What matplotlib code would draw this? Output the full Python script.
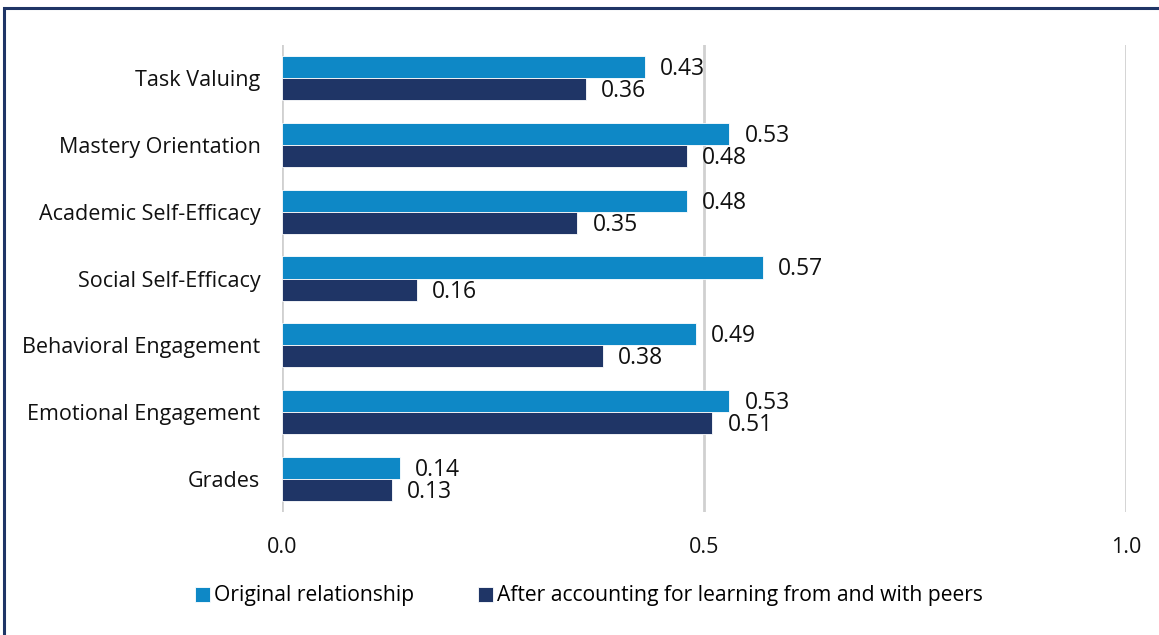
import matplotlib
matplotlib.use("Agg")
import matplotlib.pyplot as plt
import numpy as np
from matplotlib.patches import Rectangle

categories = ["Task Valuing", "Mastery Orientation", "Academic Self-Efficacy",
              "Social Self-Efficacy", "Behavioral Engagement", "Emotional Engagement", "Grades"]
original = [0.43, 0.53, 0.48, 0.57, 0.49, 0.53, 0.14]
after = [0.36, 0.48, 0.35, 0.16, 0.38, 0.51, 0.13]
series_names = ["Original relationship", "After accounting for learning from and with peers"]
xticks = [0.0, 0.5, 1.0]
xtick_labels = ["0.0", "0.5", "1.0"]

light = "#0E88C6"
dark = "#1F3566"

plt.rcParams['font.family'] = ['Open Sans', 'DejaVu Sans']

fig = plt.figure(figsize=(11.59, 6.35), dpi=100)
ax = fig.add_axes([282/1159, 1 - 512/635, (1126-282)/1159, (512-45)/635])

y = np.arange(len(categories))
h = 0.33
ax.barh(y - h/2, original, height=h, color=light, edgecolor="white", linewidth=0.6, zorder=3, label=series_names[0])
ax.barh(y + h/2, after, height=h, color=dark, edgecolor="white", linewidth=0.6, zorder=3, label=series_names[1])

for yi, v in zip(y, original):
    ax.text(v + 0.018, yi - h/2 + 0.03, f"{v:.2f}", va="center", ha="left", fontsize=16.5, color="#111111")
for yi, v in zip(y, after):
    ax.text(v + 0.018, yi + h/2 + 0.03, f"{v:.2f}", va="center", ha="left", fontsize=16.5, color="#111111")

ax.set_xlim(0, 1.0)
ax.set_ylim(len(categories) - 0.5, -0.5)
ax.set_yticks(y)
ax.set_yticklabels(categories, fontsize=15.5, color="#111111")
ax.set_xticks(xticks)
ax.set_xticklabels(xtick_labels, fontsize=15.5, color="#111111")
ax.tick_params(axis="both", length=0)
ax.tick_params(axis="y", pad=15.5)
ax.tick_params(axis="x", pad=18)
for s in ax.spines.values():
    s.set_visible(False)
ax.grid(axis="x", color="#D0D0D0", linewidth=2, zorder=0)
ax.set_axisbelow(True)

leg = fig.legend(loc="center", bbox_to_anchor=(589/1159, 1 - 596/635), ncol=2, frameon=False,
                 handlelength=0.7, handleheight=0.7, handletextpad=0.2,
                 columnspacing=3.0,
                 prop={'family': ['Open Sans', 'DejaVu Sans'], 'size': 15.2})

border = Rectangle((4/1159, -0.05), 1.1, 1 - 8/635 + 0.05, transform=fig.transFigure,
                   fill=False, edgecolor="#1F3566", linewidth=2.2, clip_on=False)
fig.patches.append(border)

fig.savefig("out.png", dpi=100)
